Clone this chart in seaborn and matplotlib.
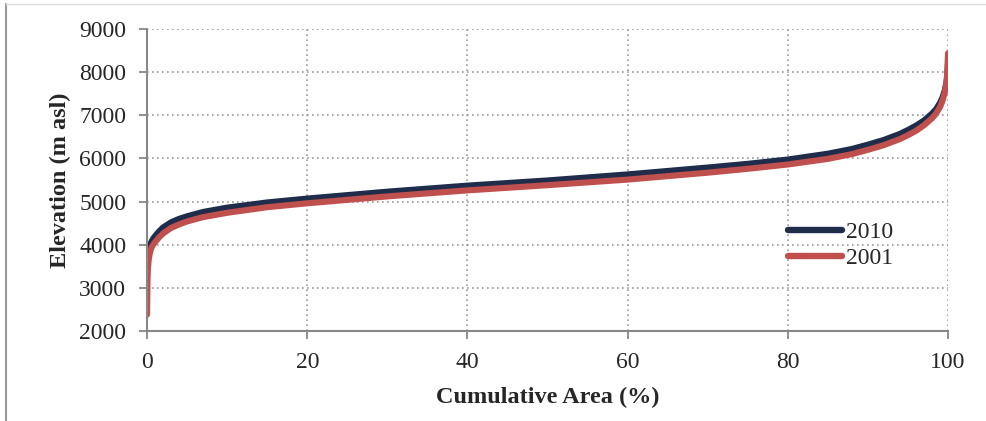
import seaborn as sns
import matplotlib.pyplot as plt
import pandas as pd
from matplotlib.lines import Line2D

# cumulative area (%) and elevation (m asl)
area = [0, 0.05, 0.1, 0.2, 0.3, 0.45, 0.6, 0.8, 1, 1.5, 2, 3, 4, 5, 7, 10,
        15, 20, 30, 40, 50, 60, 70, 75, 80, 85, 88, 90, 92, 94, 95, 96, 97,
        98, 98.5, 99, 99.3, 99.6, 99.8, 99.9, 100]
elev_2010 = [3500, 3640, 3740, 3870, 3950, 4030, 4090, 4150, 4200, 4310,
             4400, 4520, 4600, 4660, 4760, 4860, 4980, 5070, 5230, 5370,
             5490, 5630, 5790, 5875, 5975, 6110, 6220, 6320, 6430, 6570,
             6660, 6760, 6880, 7040, 7140, 7290, 7410, 7580, 7760, 7900, 8200]
elev_2001 = [2380, 3150, 3420, 3640, 3760, 3880, 3950, 4010, 4060, 4170,
             4260, 4390, 4470, 4540, 4640, 4740, 4870, 4960, 5120, 5260,
             5380, 5510, 5670, 5760, 5860, 5990, 6100, 6200, 6310, 6450,
             6540, 6640, 6770, 6930, 7040, 7190, 7330, 7530, 7760, 7960, 8440]

df = pd.concat([
    pd.DataFrame({'area': area, 'elev': elev_2010, 'year': '2010'}),
    pd.DataFrame({'area': area, 'elev': elev_2001, 'year': '2001'}),
])

sns.set_style('white')
plt.rcParams['font.family'] = ['Liberation Serif', 'DejaVu Serif']

fig = plt.figure(figsize=(9.87, 4.21), dpi=100)
ax = fig.add_axes([0.149, 0.2138, 0.8115, 0.7172])

pal = {'2010': '#1f2d4b', '2001': '#c0504d'}
sns.lineplot(data=df, x='area', y='elev', hue='year', hue_order=['2010', '2001'],
             palette=pal, linewidth=4.4, ax=ax, legend=True,
             solid_capstyle='round', solid_joinstyle='round', sort=False)

ax.set_xlim(0, 100)
ax.set_ylim(2000, 9000)
ax.set_xticks(range(0, 101, 20))
ax.set_yticks(range(2000, 9001, 1000))
ax.grid(True, linestyle=(0, (1, 2)), color='#999999', linewidth=1.2)
ax.set_axisbelow(True)
for s in ['top', 'right']:
    ax.spines[s].set_visible(False)
for s in ['left', 'bottom']:
    ax.spines[s].set_color('#888888')
    ax.spines[s].set_linewidth(1.5)
ax.tick_params(axis='both', direction='out', length=6, width=1.3, color='#888888',
               labelsize=17, left=True, bottom=True, pad=9)
ax.set_xlabel('Cumulative Area (%)', fontsize=17.5, fontweight='bold', labelpad=10)
ax.set_ylabel('Elevation (m asl)', fontsize=17.5, fontweight='bold', labelpad=6)

leg = ax.legend(loc='center left', bbox_to_anchor=(0.80, 0.283), frameon=False,
                fontsize=17, handlelength=2.3, handletextpad=0.15, labelspacing=0.2,
                borderpad=0, borderaxespad=0)
for ln in leg.get_lines():
    ln.set_linewidth(4.6)
    ln.set_solid_capstyle('round')

# chart frame remnants
fig.add_artist(Line2D([0.006, 0.006], [0.0, 0.99], color='#999999', linewidth=1.5))
fig.add_artist(Line2D([0.006, 1.0], [0.99, 0.99], color='#e0e0e0', linewidth=1))

plt.savefig('out.png', dpi=100)
